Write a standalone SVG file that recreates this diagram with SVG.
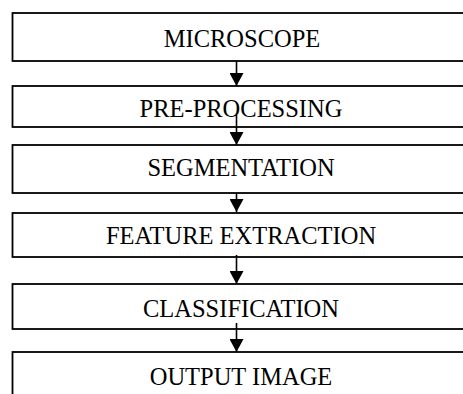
<svg xmlns="http://www.w3.org/2000/svg" width="463" height="394" viewBox="0 0 463 394">
<style>
.box{fill:#fff;stroke:#000;stroke-width:1.8}
.lbl{font-family:"Liberation Serif","Times New Roman",serif;font-size:24.5px;fill:#000;text-anchor:middle}
.conn{stroke:#000;stroke-width:1.6;fill:none}
</style>
<defs>
<marker id="ah" markerUnits="userSpaceOnUse" markerWidth="14" markerHeight="14" refX="13" refY="7" orient="auto">
<path d="M0,0 L13,7 L0,14 Z" fill="#000"/>
</marker>
</defs>
<rect width="463" height="394" fill="#fff"/>
<g id="n1"><rect class="box" x="12.5" y="13" width="460" height="48"/><text class="lbl" x="242" y="46.5">MICROSCOPE</text></g>
<g id="n2"><rect class="box" x="12.5" y="86" width="460" height="41"/><text class="lbl" x="241" y="117">PRE-PROCESSING</text></g>
<g id="n3"><rect class="box" x="12.5" y="145" width="460" height="48"/><text class="lbl" x="241" y="176">SEGMENTATION</text></g>
<g id="n4"><rect class="box" x="12.5" y="213" width="460" height="44"/><text class="lbl" x="241" y="244">FEATURE EXTRACTION</text></g>
<g id="n5"><rect class="box" x="12.5" y="284" width="460" height="45"/><text class="lbl" x="241" y="316.5">CLASSIFICATION</text></g>
<g id="n6"><rect class="box" x="12.5" y="352" width="460" height="60"/><text class="lbl" x="241" y="385">OUTPUT IMAGE</text></g>
<g id="connectors">
<line class="conn" x1="236.5" y1="61" x2="236.5" y2="86" marker-end="url(#ah)"/>
<line class="conn" x1="236.5" y1="115" x2="236.5" y2="145" marker-end="url(#ah)"/>
<line class="conn" x1="236.5" y1="193" x2="236.5" y2="212" marker-end="url(#ah)"/>
<line class="conn" x1="236.5" y1="255" x2="236.5" y2="284" marker-end="url(#ah)"/>
<line class="conn" x1="236.5" y1="323" x2="236.5" y2="352" marker-end="url(#ah)"/>
</g>
</svg>
